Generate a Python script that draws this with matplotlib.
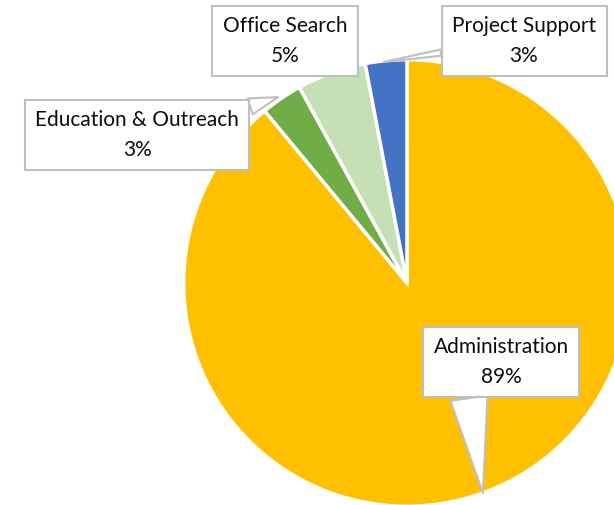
import matplotlib.pyplot as plt

# dados do gráfico
categorias = ['Administration', 'Education & Outreach', 'Office Search', 'Project Support']
valores = [89, 3, 5, 3]
cores = ['#FFC000', '#70AD47', '#C5E0B4', '#4472C4']

# posição das caixas (centro) e ponta do balão, em unidades do raio
caixas = [(0.428, -0.36), (-1.227, 0.673), (-0.555, 1.1), (0.532, 1.1)]
pontas = [(0.345, -0.955), (-0.586, 0.845), (-0.35, 0.945), (-0.105, 1.005)]
# onde o balão sai da caixa e largura da base
saidas = [(0.25, 0.0), (1.0, 1.0), (0.85, 0.0), (0.0, 0.3)]
larguras = [1.8, 0.8, 0.7, 0.3]

plt.rcParams['font.family'] = ['Lato', 'DejaVu Sans']

fig = plt.figure(figsize=(6.14, 5.05), dpi=100)
ax = fig.add_axes([0, 0, 1, 1])
ax.pie(valores, colors=cores, startangle=90, counterclock=False, radius=1.015,
       wedgeprops=dict(edgecolor='white', linewidth=2.5))
ax.set_xlim(-1.85, 0.941)
ax.set_ylim(-1.009, 1.286)
ax.set_aspect('equal')
ax.axis('off')

for nome, v, cx, pt, rp, tw in zip(categorias, valores, caixas, pontas, saidas, larguras):
    ax.annotate(f'{nome}\n{v}%', xy=pt, xytext=cx, ha='center', va='center',
                fontsize=15, color='#0D0D0D', linespacing=1.6,
                bbox=dict(boxstyle='square,pad=0.5', fc='white', ec='#BFBFBF', lw=1.5),
                arrowprops=dict(arrowstyle=f'wedge,tail_width={tw},shrink_factor=0.5',
                                fc='white', ec='#BFBFBF', lw=1.5, relpos=rp,
                                shrinkA=0, shrinkB=0))

fig.savefig('out.png', dpi=100)
